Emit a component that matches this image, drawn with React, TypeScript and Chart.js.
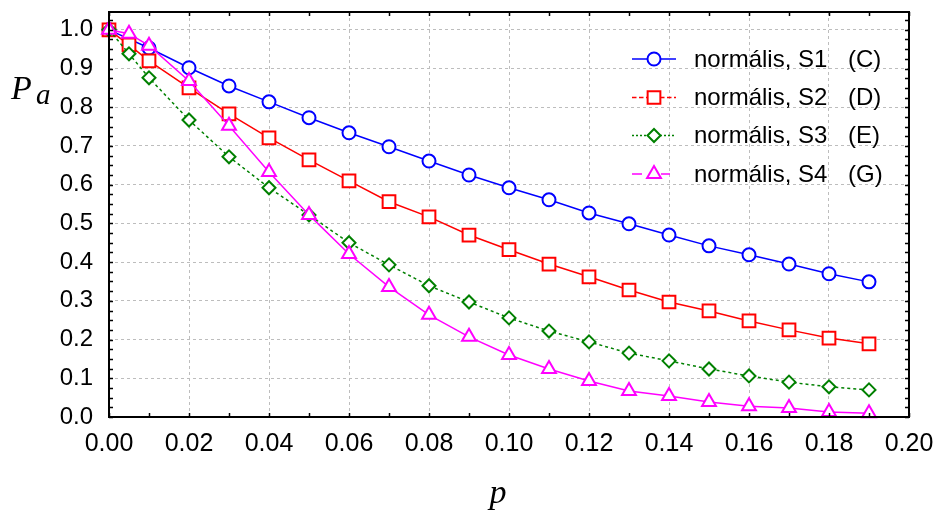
import React, { useEffect, useRef } from 'react';
import { Chart, registerables } from 'chart.js';
import { drawPoint } from 'chart.js/helpers';

Chart.register(...registerables);

// p values (x)
const pValues = [0, 0.005, 0.01, 0.02, 0.03, 0.04, 0.05, 0.06, 0.07, 0.08, 0.09, 0.1, 0.11, 0.12, 0.13, 0.14, 0.15, 0.16, 0.17, 0.18, 0.19];

// Pa values per series
const s1Values = [1.0, null, 0.953, 0.902, 0.855, 0.814, 0.773, 0.734, 0.698, 0.661, 0.625, 0.592, 0.561, 0.527, 0.499, 0.47, 0.442, 0.419, 0.395, 0.37, 0.349];
const s2Values = [1.0, 0.961, 0.92, 0.85, 0.783, 0.721, 0.664, 0.61, 0.556, 0.517, 0.47, 0.432, 0.395, 0.362, 0.328, 0.297, 0.274, 0.248, 0.225, 0.204, 0.189];
const s3Values = [1.0, 0.938, 0.876, 0.767, 0.672, 0.592, 0.522, 0.45, 0.393, 0.339, 0.297, 0.256, 0.222, 0.194, 0.165, 0.145, 0.124, 0.106, 0.09, 0.078, 0.07];
const s4Values = [1.0, 0.99, 0.959, 0.868, 0.752, 0.633, 0.522, 0.421, 0.336, 0.264, 0.207, 0.16, 0.124, 0.093, 0.067, 0.054, 0.039, 0.028, 0.023, 0.013, 0.01];

const seriesNames = ['normális, S1', 'normális, S2', 'normális, S3', 'normális, S4'];
const seriesCodes = ['(C)', '(D)', '(E)', '(G)'];

const xTickValues = [0, 0.02, 0.04, 0.06, 0.08, 0.1, 0.12, 0.14, 0.16, 0.18, 0.2];
const yTickValues = [0, 0.1, 0.2, 0.3, 0.4, 0.5, 0.6, 0.7, 0.8, 0.9, 1.0];
const xMinorStep = 0.01;
const yMinorStep = 0.025;

const colors = ['#0000ff', '#ff0000', '#008000', '#ff00ff'];
const pointStyles = ['circle', 'rect', 'rectRot', 'triangle'];
const pointRadii = [6.5, 9, 6.5, 8];
const lineDashes: number[][] = [[], [], [3, 3], []];

export default function App() {
  const ref = useRef<HTMLCanvasElement>(null);

  useEffect(() => {
    const canvas = ref.current;
    if (!canvas) return;

    const allSeries = [s1Values, s2Values, s3Values, s4Values];

    const decor = {
      id: 'decor',
      afterDraw(chart: any) {
        const { ctx, chartArea: a, scales } = chart;
        const x = scales.x;
        const y = scales.y;
        ctx.save();
        // inward ticks
        ctx.strokeStyle = '#000';
        ctx.lineWidth = 1.5;
        const tl = 4;
        ctx.beginPath();
        for (let i = 0; i * xMinorStep <= 0.2 + 1e-9; i++) {
          const px = Math.round(x.getPixelForValue(i * xMinorStep)) + 0.5;
          ctx.moveTo(px, a.bottom);
          ctx.lineTo(px, a.bottom - tl);
          ctx.moveTo(px, a.top);
          ctx.lineTo(px, a.top + tl);
        }
        for (let i = 0; i * yMinorStep <= y.max + 1e-9; i++) {
          const py = Math.round(y.getPixelForValue(i * yMinorStep)) + 0.5;
          ctx.moveTo(a.left, py);
          ctx.lineTo(a.left + tl, py);
          ctx.moveTo(a.right, py);
          ctx.lineTo(a.right - tl, py);
        }
        ctx.stroke();
        // frame
        ctx.lineWidth = 2;
        ctx.strokeRect(a.left, a.top, a.right - a.left, a.bottom - a.top);

        // axis titles
        ctx.fillStyle = '#000';
        ctx.textBaseline = 'alphabetic';
        ctx.textAlign = 'left';
        ctx.font = 'italic 34px "Liberation Serif", "Times New Roman", serif';
        ctx.fillText('P', 11, 99);
        ctx.font = 'italic 29px "Liberation Serif", "Times New Roman", serif';
        ctx.fillText('a', 36, 104);
        ctx.font = 'italic 34px "Liberation Serif", "Times New Roman", serif';
        ctx.textAlign = 'center';
        ctx.fillText('p', 498, 503);

        // legend
        const rowY = [59, 97.5, 135.5, 174];
        const lx0 = 632;
        const lx1 = 676;
        const mx = 654;
        for (let i = 0; i < 4; i++) {
          const yy = rowY[i];
          ctx.strokeStyle = colors[i];
          ctx.lineWidth = 1.5;
          ctx.beginPath();
          if (i === 0) {
            ctx.setLineDash([]);
            ctx.moveTo(lx0, yy); ctx.lineTo(lx1, yy);
          } else if (i === 1) {
            ctx.setLineDash([4.5, 2.5]);
            ctx.moveTo(lx0, yy); ctx.lineTo(lx1, yy);
          } else if (i === 2) {
            ctx.setLineDash([2, 2]);
            ctx.moveTo(lx0, yy); ctx.lineTo(lx1, yy);
          } else {
            ctx.setLineDash([]);
            ctx.moveTo(lx0, yy); ctx.lineTo(lx0 + 10, yy);
            ctx.moveTo(lx1 - 15, yy); ctx.lineTo(lx1 - 6, yy);
          }
          ctx.stroke();
          ctx.setLineDash([]);
          ctx.fillStyle = '#fff';
          ctx.strokeStyle = colors[i];
          ctx.lineWidth = 2;
          drawPoint(ctx, {
            pointStyle: pointStyles[i] as any,
            radius: pointRadii[i],
            borderWidth: 2,
            rotation: 0,
          } as any, mx, yy);
          ctx.fillStyle = '#000';
          ctx.font = '24px "Liberation Sans", Arial, sans-serif';
          ctx.textAlign = 'left';
          ctx.textBaseline = 'middle';
          ctx.fillText(seriesNames[i], 694, yy + 1);
          ctx.fillText(seriesCodes[i], 848, yy + 1);
        }
        ctx.restore();
      },
    };

    const chart = new Chart(canvas, {
      type: 'line',
      data: {
        datasets: allSeries.map((vals, i) => ({
          label: seriesNames[i] + '  ' + seriesCodes[i],
          data: pValues.map((p, k) => ({ x: p, y: vals[k] })),
          borderColor: colors[i],
          borderWidth: 1.5,
          borderDash: lineDashes[i],
          backgroundColor: '#ffffff',
          pointStyle: pointStyles[i] as any,
          pointRadius: pointRadii[i],
          pointBorderWidth: 2,
          pointBackgroundColor: '#ffffff',
          pointBorderColor: colors[i],
          spanGaps: true,
          tension: 0,
          clip: false as any,
          order: 4 - i,
        })),
      },
      options: {
        animation: false,
        responsive: false,
        events: [],
        layout: { padding: { top: 12, right: 29, left: 0, bottom: 0 } },
        plugins: {
          legend: { display: false },
          tooltip: { enabled: false },
        },
        scales: {
          x: {
            type: 'linear',
            min: 0,
            max: 0.2,
            afterBuildTicks: (axis: any) => {
              axis.ticks = xTickValues.map((v) => ({ value: v }));
            },
            afterFit: (axis: any) => {
              axis.height = 96;
              axis.paddingLeft = 0;
              axis.paddingRight = 0;
            },
            ticks: {
              callback: (v: any) => Number(v).toFixed(2),
              color: '#000',
              font: { family: '"Liberation Sans", Arial, sans-serif', size: 25 },
              padding: 12,
              maxRotation: 0,
              autoSkip: false,
            },
            grid: { color: '#bdbdbd', lineWidth: 1, drawTicks: false },
            border: { display: false, dash: [3, 3] },
          },
          y: {
            type: 'linear',
            min: 0,
            max: 1.046,
            afterBuildTicks: (axis: any) => {
              axis.ticks = yTickValues.map((v) => ({ value: v }));
            },
            afterFit: (axis: any) => {
              axis.width = 109;
              axis.paddingTop = 0;
              axis.paddingBottom = 0;
            },
            ticks: {
              callback: (v: any) => Number(v).toFixed(1),
              color: '#000',
              font: { family: '"Liberation Sans", Arial, sans-serif', size: 24 },
              padding: 16,
              autoSkip: false,
            },
            grid: { color: '#bdbdbd', lineWidth: 1, drawTicks: false },
            border: { display: false, dash: [3, 3] },
          },
        },
      },
      plugins: [decor],
    });

    return () => chart.destroy();
  }, []);

  return (
    <div style={{ position: 'fixed', left: 0, top: 0, width: 938, height: 513, background: '#fff' }}>
      <canvas ref={ref} width={938} height={513} style={{ display: 'block' }} />
    </div>
  );
}
